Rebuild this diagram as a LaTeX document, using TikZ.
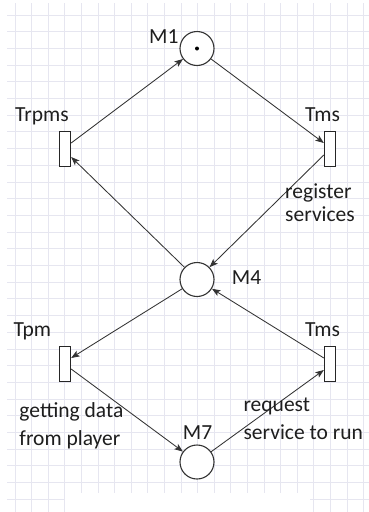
\documentclass[tikz,border=0pt]{standalone}
\usepackage{fontspec}
\setmainfont{Carlito}
\usetikzlibrary{arrows.meta}
\definecolor{gridc}{HTML}{E6E6F0}
\definecolor{ink}{HTML}{333333}
\definecolor{txt}{HTML}{1E1E1E}
\begin{document}
\begin{tikzpicture}[x=1pt,y=-1pt,
  gridline/.style={draw=gridc,line width=0.9pt},
  place/.style={circle,draw=ink,line width=1.1pt,minimum size=34pt,inner sep=0pt,fill=white},
  trans/.style={rectangle,draw=black!85,line width=0.9pt,minimum width=11.4pt,minimum height=35pt,inner sep=0pt,fill=white},
  arr/.style={draw=ink,line width=0.85pt,-{Stealth[length=8.5pt,width=6.5pt,inset=2pt]}},
  lbl/.style={anchor=base west,inner sep=0pt,text=txt,font=\fontsize{21.5}{24}\selectfont}]
\useasboundingbox (0,0) rectangle (369,512);
\fill[white] (0,0) rectangle (369,512);
% background squared paper
\foreach \k in {0,...,21} \draw[gridline] ({15+16.6*\k},3) -- ({15+16.6*\k},512);
\foreach \k in {0,...,29} \draw[gridline] (7,{15+16.7*\k}) -- (369,{15+16.7*\k});
\fill[white] (65,493) rectangle (310,512);

% places
\node[place] (m1) at (197,48.5) {};
\fill[black] (m1.center) circle (2pt);
\node[place] (m4) at (197,279.5) {};
\node[place] (m7) at (197,462) {};

% transitions
\node[trans] (trpms) at (65,149) {};
\node[trans] (tmsa) at (330,149) {};
\node[trans] (tpm) at (65,364) {};
\node[trans] (tmsb) at (330,364) {};

% arcs
\draw[arr] ([yshift=6pt]trpms.east) -- (m1);
\draw[arr] (m1) -- ([yshift=6pt]tmsa.west);
\draw[arr] (m4) -- ([yshift=-8pt]trpms.east);
\draw[arr] ([yshift=-6pt]tmsa.west) -- (m4);
\draw[arr] (m4) -- ([yshift=6pt]tpm.east);
\draw[arr] ([yshift=6pt]tmsb.west) -- (m4);
\draw[arr] ([yshift=-5pt]tpm.east) -- (m7);
\draw[arr] (m7) -- ([yshift=-6pt]tmsb.west);

% labels
\node[lbl] (lm1) at (149,43.3) {M1};
\node[lbl] (ltrpms) at (15,121.7) {Trpms};
\node[lbl] (ltmsa) at (305,121.7) {Tms};
\node[lbl] (lreg1) at (285,198) {register};
\node[lbl] (lreg2) at (285,221) {services};
\node[lbl] (lm4) at (231.7,284.3) {M4};
\node[lbl] (ltpm) at (13.3,336) {Tpm};
\node[lbl] (ltmsb) at (305,336) {Tms};
\node[lbl] (lget1) at (19.3,417) {getting data};
\node[lbl] (lget2) at (19.3,445) {from player};
\node[lbl] (lreq1) at (243.3,411) {request};
\node[lbl] (lreq2) at (243.3,439) {service to run};
\node[lbl] (lm7) at (182.7,439) {M7};
\end{tikzpicture}
\end{document}
